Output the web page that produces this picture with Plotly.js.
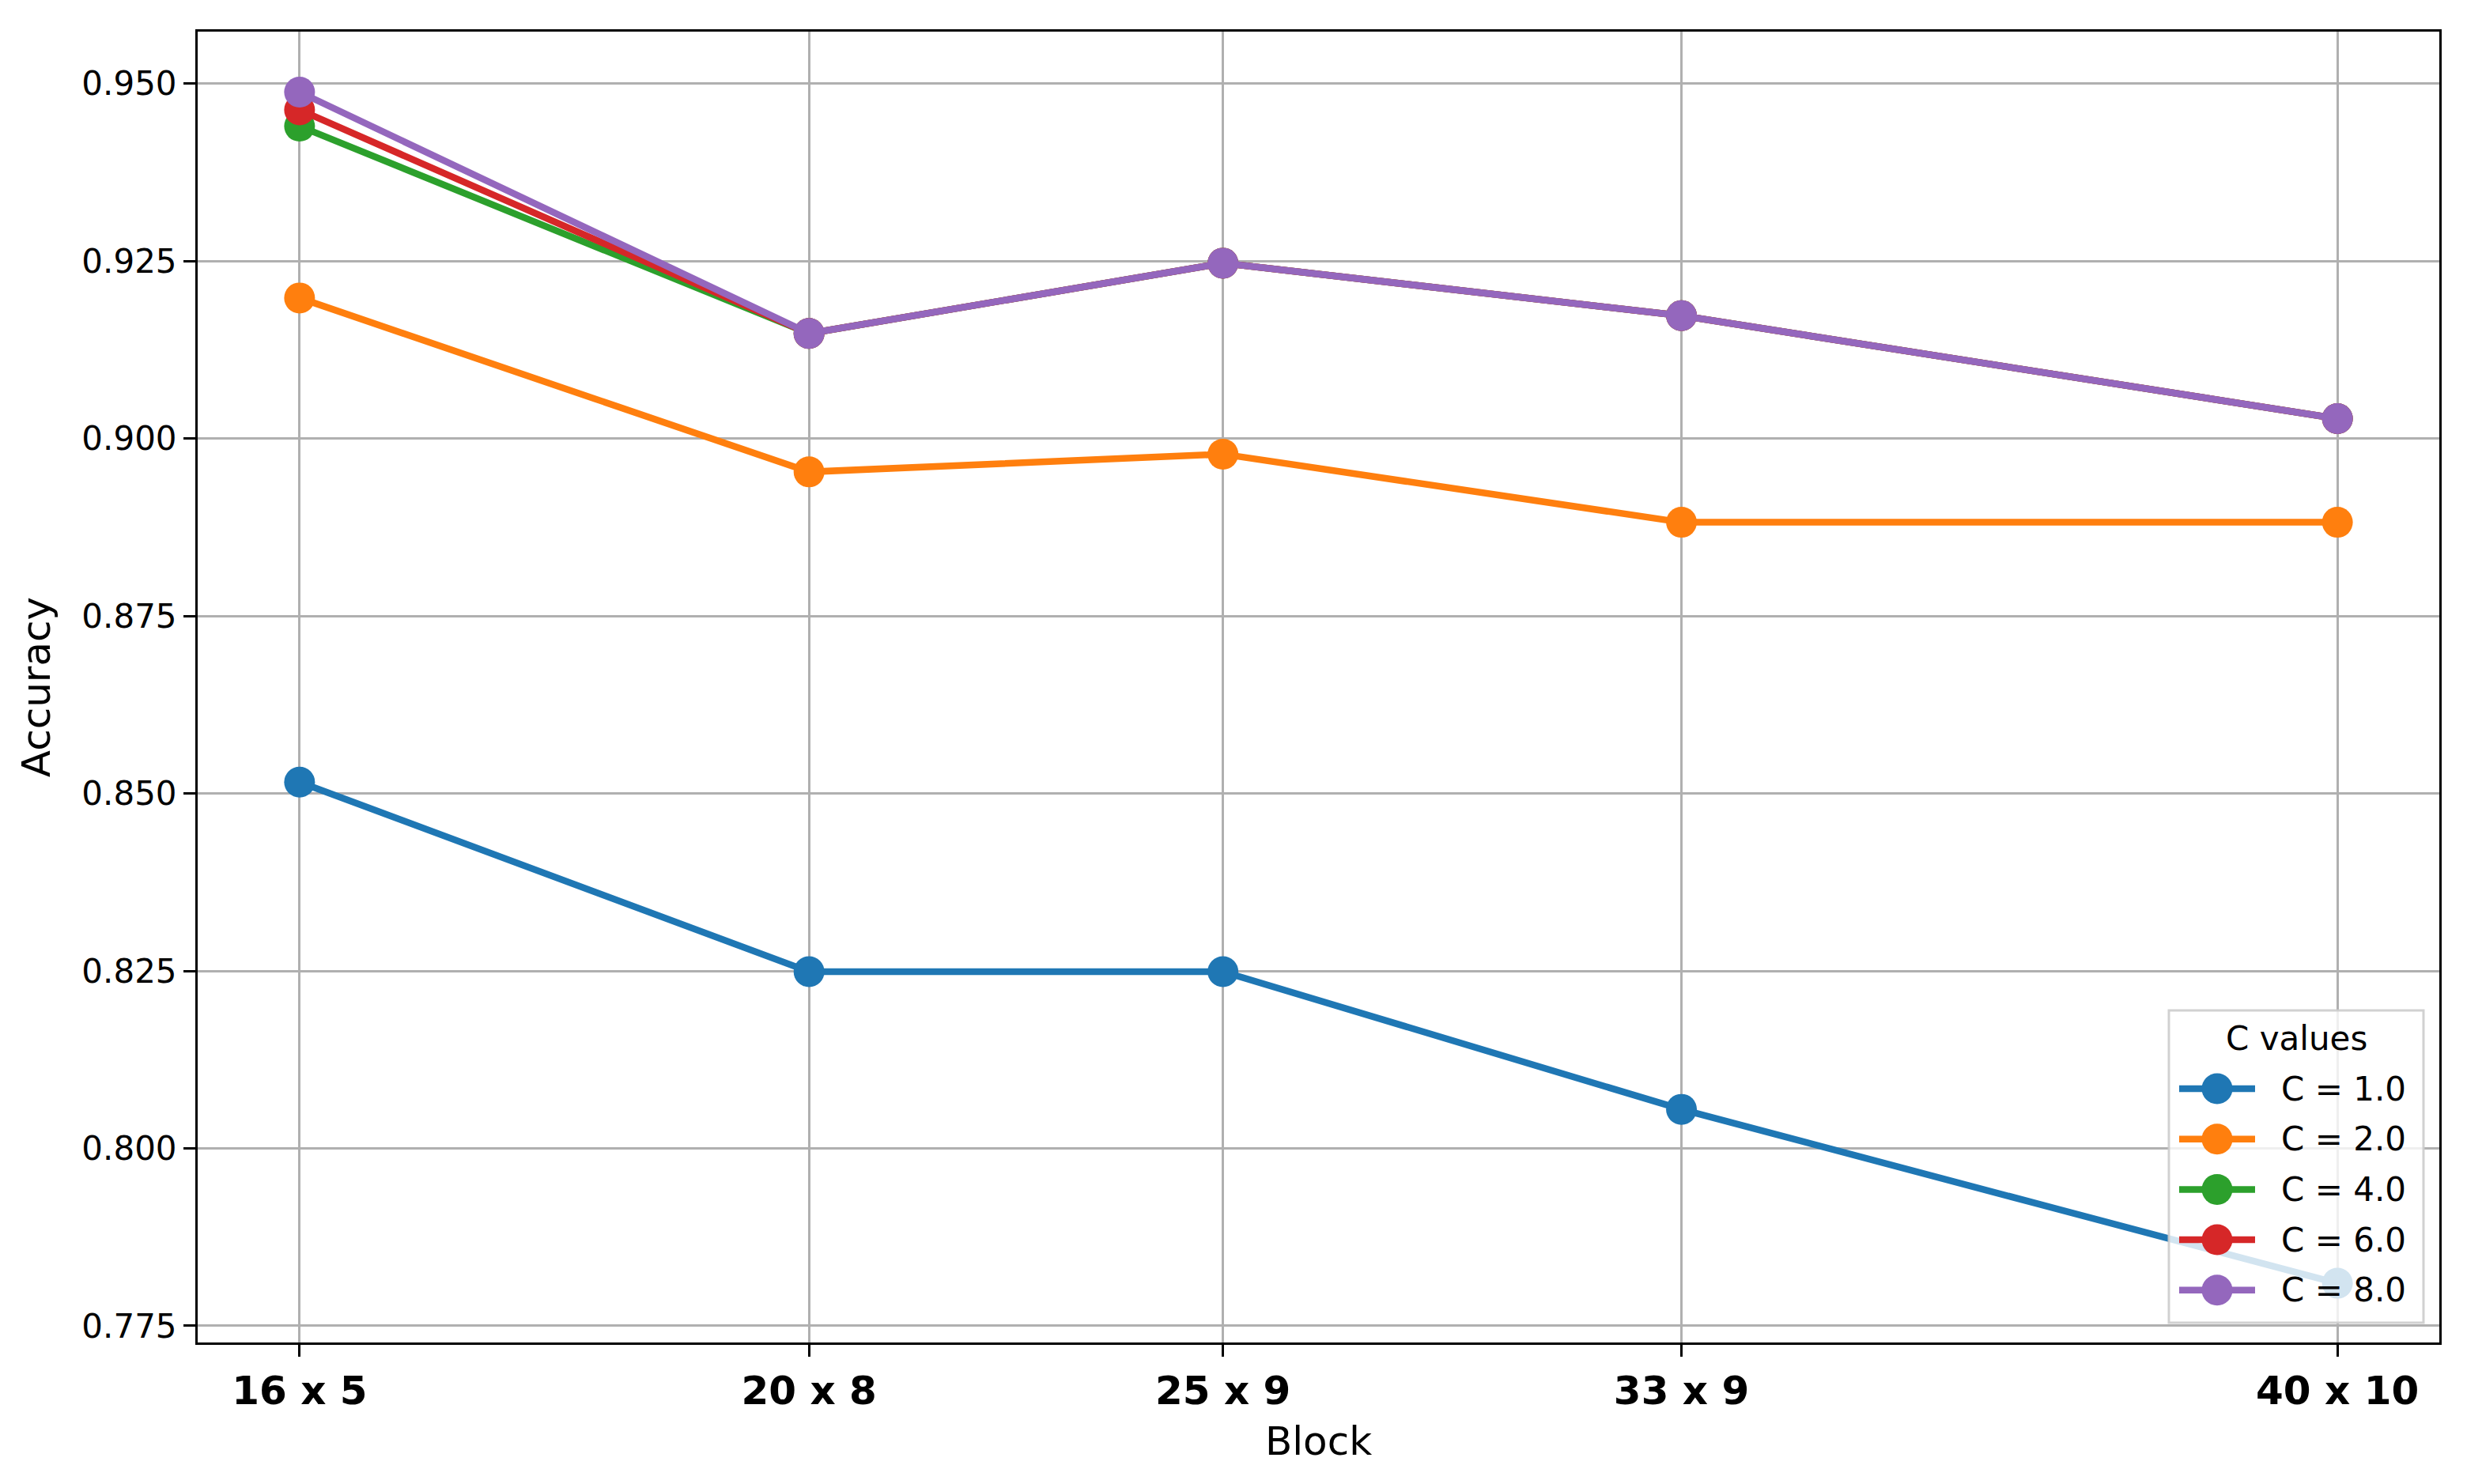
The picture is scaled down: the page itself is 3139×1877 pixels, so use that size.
<!DOCTYPE html>
<html>
<head>
<meta charset="utf-8">
<script src="https://cdn.plot.ly/plotly-3.0.1.min.js"></script>
<style>html,body{margin:0;padding:0;background:#fff;}#chart{width:3139px;height:1877px;}</style>
</head>
<body>
<div id="chart"></div>
<script>
// Block sizes (x positioned by block area: rows x cols)
const blockLabels = ["16 x 5", "20 x 8", "25 x 9", "33 x 9", "40 x 10"];
const blockArea = [80, 160, 225, 297, 400];

const seriesNames = ["C = 1.0", "C = 2.0", "C = 4.0", "C = 6.0", "C = 8.0"];
const accC1 = [0.8516, 0.8249, 0.8249, 0.8055, 0.7810];
const accC2 = [0.9198, 0.8953, 0.8978, 0.8882, 0.8882];
const accC4 = [0.9440, 0.9148, 0.9247, 0.9173, 0.9028];
const accC6 = [0.9463, 0.9148, 0.9247, 0.9173, 0.9028];
const accC8 = [0.9488, 0.9148, 0.9247, 0.9173, 0.9028];
const seriesColors = ["#1f77b4", "#ff7f0e", "#2ca02c", "#d62728", "#9467bd"];

const yTicks = [0.775, 0.800, 0.825, 0.850, 0.875, 0.900, 0.925, 0.950];
const legendTitle = "C values";

const allSeries = [accC1, accC2, accC4, accC6, accC8];
const LINE_W = 8.5, MARKER_D = 39;
const traces = allSeries.map((vals, i) => ({
  type: "scatter",
  mode: "lines+markers",
  x: blockArea,
  y: vals,
  name: seriesNames[i],
  showlegend: false,
  line: {color: seriesColors[i], width: LINE_W},
  marker: {color: seriesColors[i], size: MARKER_D, line: {width: 0}}
}));

// Figure geometry (px)
const W = 3139, H = 1877;
const M = {l: 250, r: 54, t: 40, b: 179};
const plotW = W - M.l - M.r, plotH = H - M.t - M.b;
const px2x = px => (px - M.l) / plotW;
const py2y = py => (H - M.b - py) / plotH;

// Legend box drawn in matplotlib style (long line samples, big markers)
const LG = {left: 2743, right: 3065, top: 1278, bottom: 1673,
            titleX: 2904, titleY: 1313, firstY: 1377, step: 63.7,
            lineX0: 2756, lineX1: 2852, textX: 2883};
const font = "DejaVu Sans, Liberation Sans, sans-serif";

const shapes = [{
  type: "rect", xref: "paper", yref: "paper", layer: "above",
  x0: px2x(LG.left), x1: px2x(LG.right), y0: py2y(LG.bottom), y1: py2y(LG.top),
  fillcolor: "rgba(255,255,255,0.8)", line: {color: "rgba(204,204,204,0.9)", width: 3}
}];
const annotations = [{
  xref: "paper", yref: "paper", x: px2x(LG.titleX), y: py2y(LG.titleY),
  text: legendTitle, showarrow: false, xanchor: "center", yanchor: "middle",
  font: {family: font, size: 42, color: "#000000"}
}];
seriesNames.forEach((name, i) => {
  const cy = py2y(LG.firstY + i * LG.step);
  shapes.push({
    type: "line", xref: "paper", yref: "paper", layer: "above",
    x0: px2x(LG.lineX0), x1: px2x(LG.lineX1), y0: cy, y1: cy,
    line: {color: seriesColors[i], width: LINE_W}
  });
  shapes.push({
    type: "circle", xref: "paper", yref: "paper", layer: "above",
    xsizemode: "pixel", ysizemode: "pixel",
    xanchor: px2x((LG.lineX0 + LG.lineX1) / 2), yanchor: cy,
    x0: -MARKER_D / 2, x1: MARKER_D / 2, y0: -MARKER_D / 2, y1: MARKER_D / 2,
    fillcolor: seriesColors[i], line: {width: 0}
  });
  annotations.push({
    xref: "paper", yref: "paper", x: px2x(LG.textX), y: cy,
    text: name, showarrow: false, xanchor: "left", yanchor: "middle",
    font: {family: font, size: 42, color: "#000000"}
  });
});

const layout = {
  width: W,
  height: H,
  paper_bgcolor: "#ffffff",
  plot_bgcolor: "#ffffff",
  margin: M,
  font: {family: font, size: 42, color: "#000000"},
  showlegend: false,
  xaxis: {
    range: [64, 416],
    tickmode: "array",
    tickvals: blockArea,
    ticktext: blockLabels,
    tickfont: {family: font, size: 50, color: "#000000", weight: "bold"},
    ticks: "outside",
    ticklen: 15,
    tickwidth: 3,
    tickcolor: "#000000",
    showgrid: true,
    gridcolor: "#b0b0b0",
    gridwidth: 3,
    showline: true,
    linecolor: "#000000",
    linewidth: 3,
    mirror: true,
    zeroline: false,
    title: {text: "Block", font: {family: font, size: 50, color: "#000000"}, standoff: 18}
  },
  yaxis: {
    range: [0.77266, 0.95732],
    tickmode: "array",
    tickvals: yTicks,
    tickformat: ".3f",
    tickfont: {family: font, size: 42, color: "#000000"},
    ticks: "outside",
    ticklen: 15,
    tickwidth: 3,
    tickcolor: "#000000",
    showgrid: true,
    gridcolor: "#b0b0b0",
    gridwidth: 3,
    showline: true,
    linecolor: "#000000",
    linewidth: 3,
    mirror: true,
    zeroline: false,
    title: {text: "Accuracy", font: {family: font, size: 50, color: "#000000"}, standoff: 24}
  },
  shapes: shapes,
  annotations: annotations
};

Plotly.newPlot("chart", traces, layout, {displayModeBar: false, staticPlot: true});
</script>
</body>
</html>
